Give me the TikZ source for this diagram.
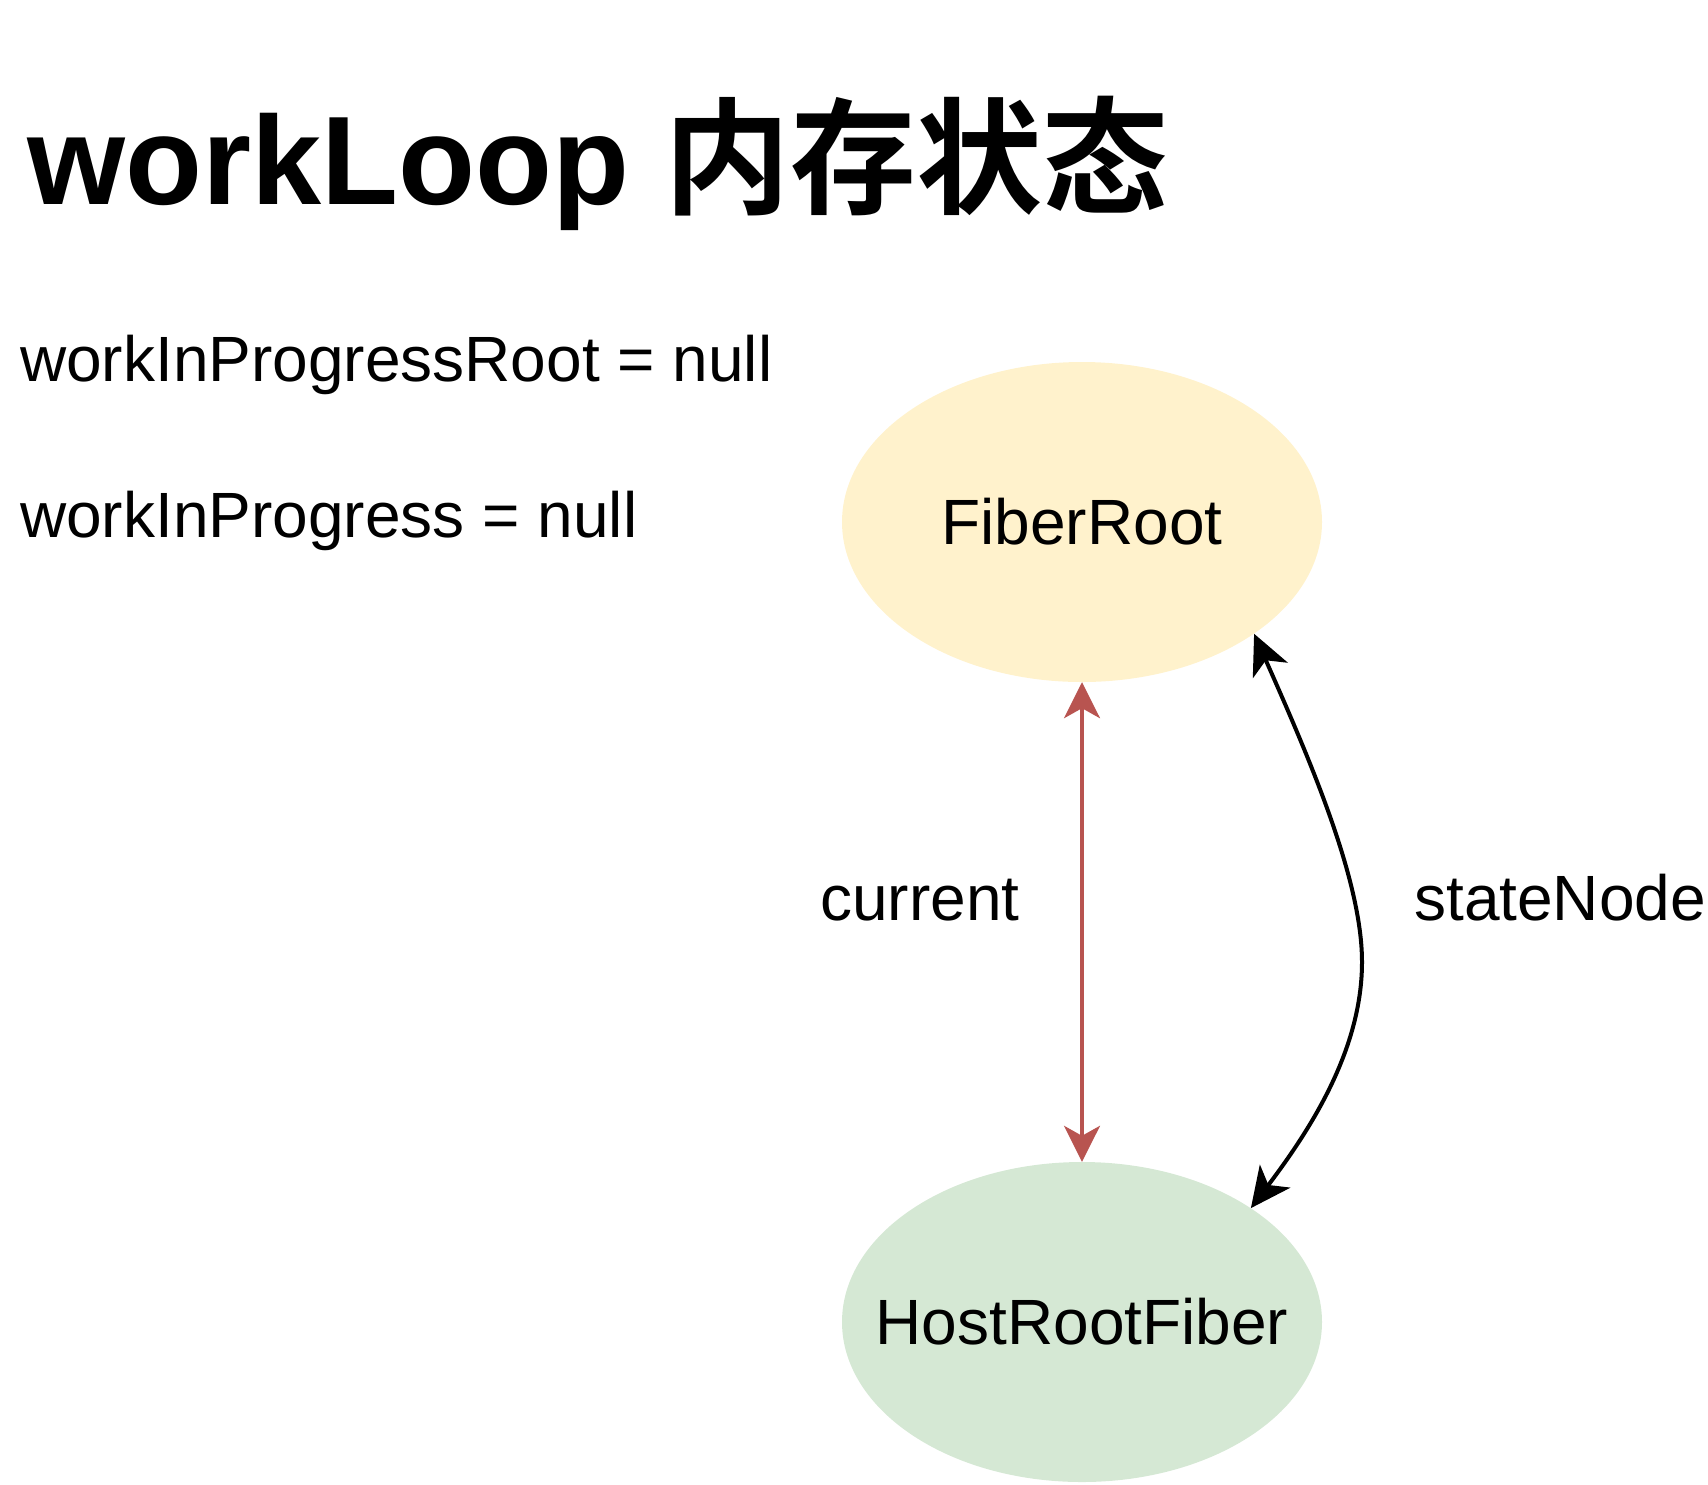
\documentclass[tikz,border=0pt]{standalone}
\usepackage{fontspec}
\setmainfont{Liberation Sans}
\newfontfamily\cjk{Noto Sans CJK SC}[BoldFont={Noto Sans CJK SC Bold}]
\usetikzlibrary{shapes.geometric,arrows.meta}
\definecolor{drred}{HTML}{B85450}
\definecolor{yfill}{HTML}{FFF2CC}
\definecolor{gfill}{HTML}{D5E8D4}
\begin{document}
\begin{tikzpicture}[x=1pt,y=-1pt,
  txt/.style={inner sep=0pt,anchor=base west,font=\fontsize{64}{76}\selectfont},
  oval/.style={ellipse,minimum width=480pt,minimum height=320pt,inner sep=0pt},
  ovaltext/.style={inner sep=0pt,font=\fontsize{64}{76}\selectfont},
  redlink/.style={draw=drred,line width=3.5pt,{Stealth[length=36pt,width=36pt,inset=10pt]}-{Stealth[length=36pt,width=36pt,inset=10pt]}},
  blacklink/.style={draw=black,line width=4pt,{Stealth[length=40pt,width=38pt,inset=11pt]}-{Stealth[length=40pt,width=38pt,inset=11pt]}}
]
\useasboundingbox (0,0) rectangle (1708,1484);
\node[inner sep=0pt,anchor=base west,font=\fontsize{126}{150}\selectfont\bfseries] (title) at (27,204) {workLoop {\cjk 内存状态}};
\node[txt] (wipr) at (20,381) {workInProgressRoot = null};
\node[txt] (wip) at (20,537) {workInProgress = null};
\node[oval,fill=yfill] (fr) at (1082,522) {};
\node[ovaltext] (frt) at (fr.center) {FiberRoot};
\node[oval,fill=gfill] (hr) at (1082,1322) {};
\node[ovaltext] (hrt) at (hr.center) {HostRootFiber};
\draw[redlink] (fr.south) -- (hr.north);
\coordinate (mid) at (1362,962);
\draw[blacklink] (fr.-33.6) .. controls (1310,760) and (1362,880) .. (mid) .. controls (1362,1050) and (1310,1130) .. (hr.34);
\node[txt] (cur) at (820,920) {current};
\node[txt] (sn) at (1414,920) {stateNode};
\end{tikzpicture}
\end{document}
